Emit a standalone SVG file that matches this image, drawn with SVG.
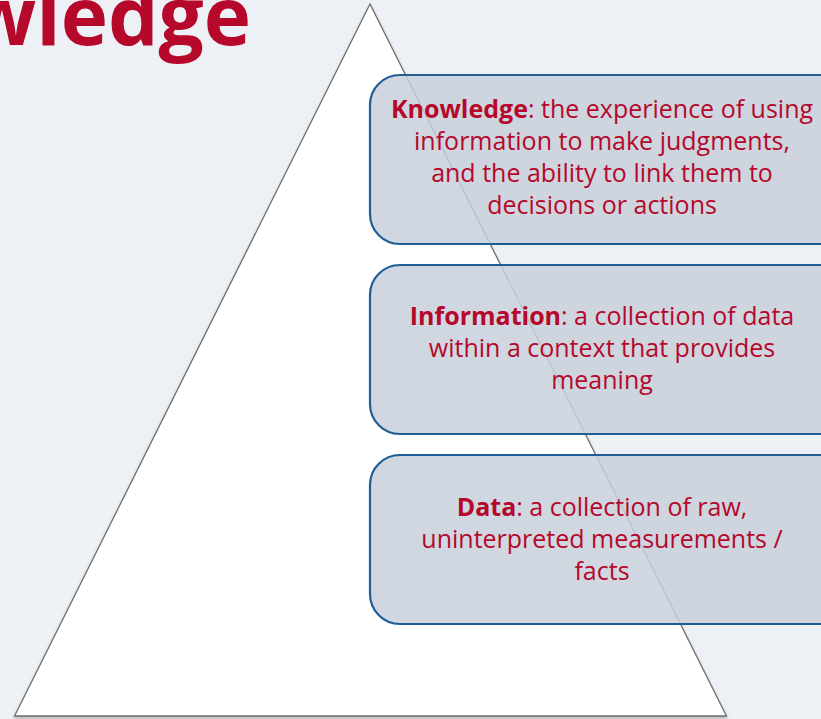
<svg xmlns="http://www.w3.org/2000/svg" width="821" height="719" viewBox="0 0 821 719">
<style>
.box{fill:#c8d0da;fill-opacity:0.85;stroke:#1f5e94;stroke-width:2.2}
.t{font-family:"Open Sans","DejaVu Sans",sans-serif;font-size:25px;fill:#b5082b;text-anchor:middle}
.b{font-weight:bold}
</style>
<defs>
<filter id="sh" x="-5%" y="-5%" width="110%" height="110%">
<feDropShadow dx="0" dy="2" stdDeviation="1.5" flood-color="#000" flood-opacity="0.25"/>
</filter>
</defs>
<rect width="821" height="719" fill="#edf1f5"/>
<text x="251" y="45" font-family="Open Sans,DejaVu Sans,sans-serif" font-weight="bold" font-size="80" fill="#b5082b" text-anchor="end">Knowledge</text>
<g id="pyramid">
<polygon points="370,4 14.5,716 726.5,716" fill="#ffffff" stroke="#6e6e6e" stroke-width="1.3" filter="url(#sh)"/>
</g>
<g id="knowledge">
<rect class="box" x="370" y="75" width="480" height="169" rx="30"/>
<text class="t" x="602" y="118"><tspan class="b">Knowledge</tspan>: the experience of using</text>
<text class="t" x="602" y="150">information to make judgments,</text>
<text class="t" x="602" y="182">and the ability to link them to</text>
<text class="t" x="602" y="214">decisions or actions</text>
</g>
<g id="information">
<rect class="box" x="370" y="265" width="480" height="169" rx="30"/>
<text class="t" x="602" y="325"><tspan class="b">Information</tspan>: a collection of data</text>
<text class="t" x="602" y="357">within a context that provides</text>
<text class="t" x="602" y="389">meaning</text>
</g>
<g id="data">
<rect class="box" x="370" y="455" width="480" height="169" rx="30"/>
<text class="t" x="602" y="516"><tspan class="b">Data</tspan>: a collection of raw,</text>
<text class="t" x="602" y="548">uninterpreted measurements /</text>
<text class="t" x="602" y="580">facts</text>
</g>
<g id="connectors"/>
</svg>
